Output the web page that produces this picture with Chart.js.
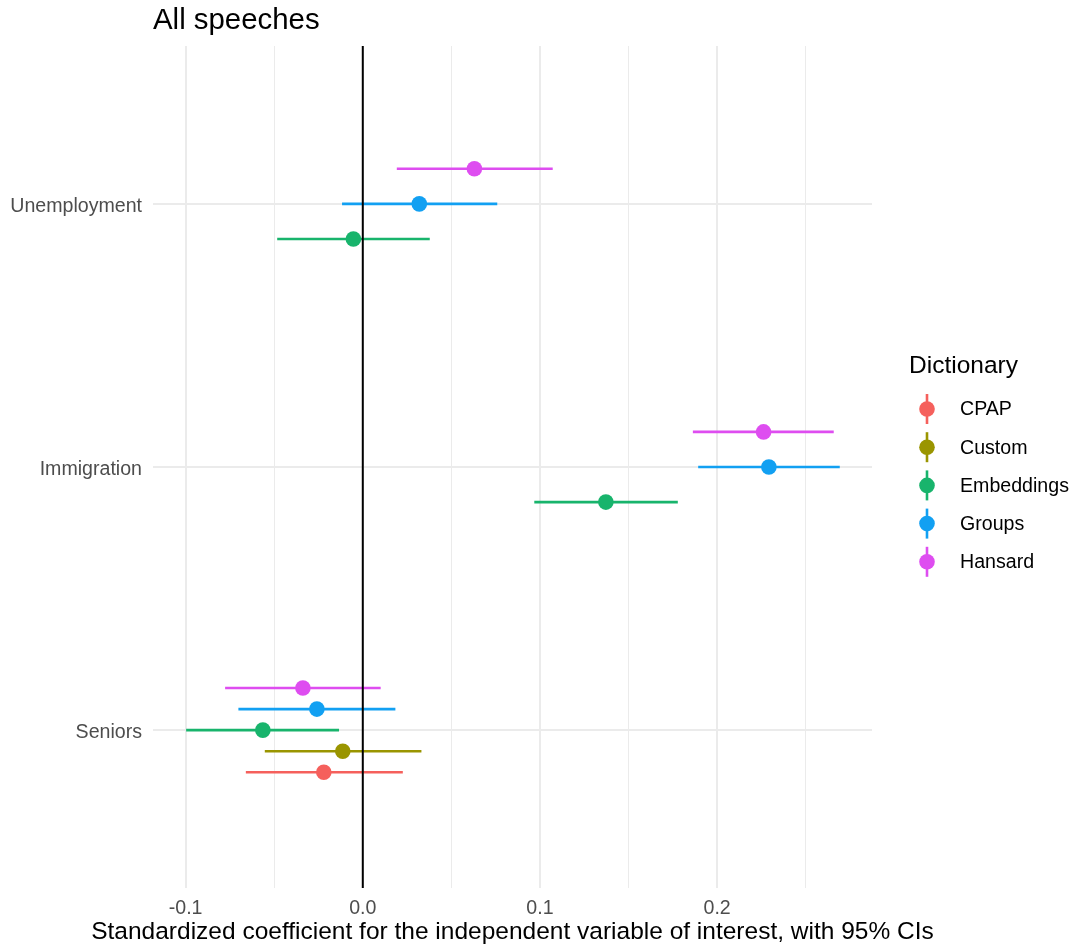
<!DOCTYPE html>
<html>
<head>
	<meta charset="UTF-8">
	<title>All speeches</title>
	<script src="https://cdn.jsdelivr.net/npm/chart.js@4/dist/chart.umd.min.js"></script>
	<style>
		body { margin: 0; background: #fff; }
		#chart { display: block; }
	</style>
</head>
<body>
	<canvas id="chart" width="1076" height="951"></canvas>
	<script>
	// topics, bottom to top
	const topics = ['Seniors', 'Immigration', 'Unemployment'];
	const dictionaries = ['CPAP', 'Custom', 'Embeddings', 'Groups', 'Hansard'];
	const colors = ['#F5605C', '#9A9500', '#18B46C', '#12A0F2', '#DE4DF0'];

	// coefficient and 95% CI per dictionary, one entry per topic (null = not estimated)
	const estimate = {
		CPAP:       [-0.0220, null, null],
		Custom:     [-0.0113, null, null],
		Embeddings: [-0.0564, 0.1372, -0.0053],
		Groups:     [-0.0259, 0.2292, 0.0319],
		Hansard:    [-0.0338, 0.2262, 0.0630]
	};
	const lower = {
		CPAP:       [-0.0660, null, null],
		Custom:     [-0.0553, null, null],
		Embeddings: [-0.0997, 0.0968, -0.0483],
		Groups:     [-0.0702, 0.1893, -0.0117],
		Hansard:    [-0.0777, 0.1863, 0.0192]
	};
	const upper = {
		CPAP:       [0.0226, null, null],
		Custom:     [0.0331, null, null],
		Embeddings: [-0.0134, 0.1778, 0.0378],
		Groups:     [0.0184, 0.2692, 0.0759],
		Hansard:    [0.0101, 0.2658, 0.1072]
	};

	const xTicks = [-0.1, -0.05, 0, 0.05, 0.1, 0.15, 0.2, 0.25];
	const xMin = -0.1184, xMax = 0.2874;

	const baseFont = "'Liberation Sans', Arial, Helvetica, sans-serif";

	// dodge points within each topic (total width 0.4)
	const dodgeWidth = 0.4;
	function dodgedY(topicIdx, dict) {
		const present = dictionaries.filter(d => estimate[d][topicIdx] !== null);
		const n = present.length;
		const k = present.indexOf(dict);
		return (topicIdx + 1) - dodgeWidth / 2 + dodgeWidth * (k + 0.5) / n;
	}

	const datasets = [];
	// error bars first so they sit underneath
	dictionaries.forEach((d, i) => {
		topics.forEach((t, j) => {
			if (estimate[d][j] === null) return;
			const y = dodgedY(j, d);
			datasets.push({
				type: 'line',
				data: [{x: lower[d][j], y: y}, {x: upper[d][j], y: y}],
				borderColor: colors[i],
				borderWidth: 2.6,
				pointRadius: 0,
				order: 3
			});
		});
	});
	// zero reference line
	datasets.push({
		type: 'line',
		data: [{x: 0, y: 0.4}, {x: 0, y: 3.6}],
		borderColor: '#000',
		borderWidth: 2,
		pointRadius: 0,
		order: 2
	});
	// point estimates
	dictionaries.forEach((d, i) => {
		const pts = [];
		topics.forEach((t, j) => {
			if (estimate[d][j] !== null) pts.push({x: estimate[d][j], y: dodgedY(j, d)});
		});
		datasets.push({
			type: 'scatter',
			label: d,
			data: pts,
			backgroundColor: colors[i],
			borderWidth: 0,
			pointRadius: 7.8,
			order: 1
		});
	});

	const isMajor = v => Math.abs(v * 10 - Math.round(v * 10)) < 1e-6;

	const decorations = {
		id: 'decorations',
		afterDraw(chart) {
			const ctx = chart.ctx;
			const area = chart.chartArea;
			ctx.save();
			// plot title
			ctx.fillStyle = '#000';
			ctx.textAlign = 'left';
			ctx.textBaseline = 'alphabetic';
			ctx.font = '29.4px ' + baseFont;
			ctx.fillText('All speeches', area.left, 29);
			// x axis title
			ctx.textAlign = 'center';
			ctx.font = '24.5px ' + baseFont;
			ctx.fillText('Standardized coefficient for the independent variable of interest, with 95% CIs',
				(area.left + area.right) / 2, 939);
			// legend
			ctx.textAlign = 'left';
			ctx.textBaseline = 'middle';
			ctx.fillText('Dictionary', 909, 366);
			ctx.font = '19.6px ' + baseFont;
			dictionaries.forEach((d, i) => {
				const cy = 409 + i * 38.2;
				ctx.strokeStyle = colors[i];
				ctx.lineWidth = 2.6;
				ctx.beginPath();
				ctx.moveTo(927, cy - 15);
				ctx.lineTo(927, cy + 15);
				ctx.stroke();
				ctx.fillStyle = colors[i];
				ctx.beginPath();
				ctx.arc(927, cy, 7.8, 0, Math.PI * 2);
				ctx.fill();
				ctx.fillStyle = '#000';
				ctx.fillText(d, 960, cy + 1);
			});
			ctx.restore();
		}
	};

	new Chart(document.getElementById('chart'), {
		data: { datasets: datasets },
		options: {
			responsive: false,
			animation: false,
			layout: { padding: { top: 46, right: 204, bottom: 0, left: 0 } },
			plugins: {
				legend: { display: false },
				tooltip: { enabled: false },
				title: { display: false }
			},
			scales: {
				x: {
					type: 'linear',
					min: xMin,
					max: xMax,
					afterBuildTicks: axis => { axis.ticks = xTicks.map(v => ({value: v})); },
					afterFit: axis => { axis.height = 63; },
					border: { display: false },
					grid: {
						color: '#EBEBEB',
						lineWidth: c => (c.tick && isMajor(c.tick.value)) ? 2 : 1,
						drawTicks: false
					},
					ticks: {
						autoSkip: false,
						maxRotation: 0,
						padding: 9,
						color: '#4D4D4D',
						font: { family: baseFont, size: 19.6 },
						callback: v => isMajor(v) ? v.toFixed(1) : ''
					}
				},
				y: {
					type: 'linear',
					min: 0.4,
					max: 3.6,
					afterBuildTicks: axis => { axis.ticks = topics.map((t, j) => ({value: j + 1})); },
					afterFit: axis => { axis.width = 153; },
					border: { display: false },
					grid: { color: '#EBEBEB', lineWidth: 2, drawTicks: false },
					ticks: {
						autoSkip: false,
						padding: 11,
						labelOffset: 2.5,
						color: '#4D4D4D',
						font: { family: baseFont, size: 19.6 },
						callback: v => topics[Math.round(v) - 1]
					}
				}
			}
		},
		plugins: [decorations]
	});
	</script>
</body>
</html>
